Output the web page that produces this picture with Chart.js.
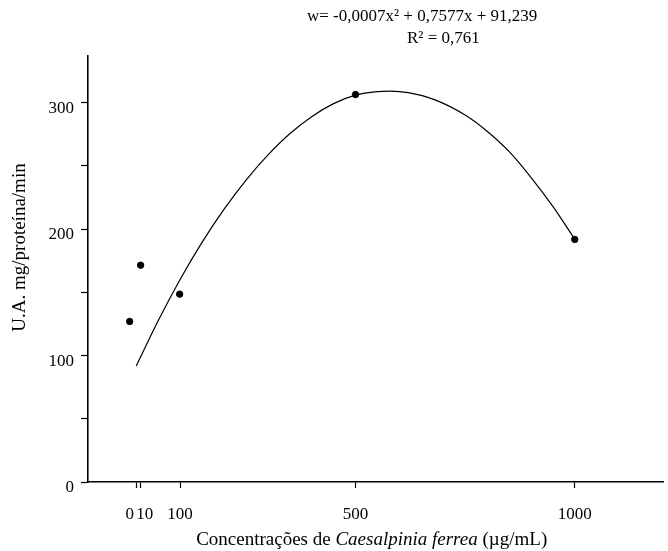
<!DOCTYPE html>
<html lang="pt">
<head>
    <meta charset="UTF-8">
    <title>Atividade x Concentração de Caesalpinia ferrea</title>
    <script src="https://cdn.jsdelivr.net/npm/chart.js"></script>
    <style>
        body { margin: 0; background: #fff; }
    </style>
</head>
<body>
    <canvas id="activityChart" width="668" height="551"></canvas>
    <script>
        // measured points
        const concX = [-15, 10, 99, 500, 1000];
        const activityY = [127, 171.5, 148.6, 306.5, 191.9];

        // fitted curve
        const curveX = [0, 50, 100, 150, 200, 250, 300, 350, 400, 450, 500, 550, 580, 620, 680, 750, 800, 850, 900, 950, 1000];
        const curveY = [91.7, 127.5, 160.2, 189.6, 215.7, 238.7, 258.6, 275.5, 289, 299.3, 306, 308.8, 309.2, 308, 302.5, 290.3, 277.5, 261.5, 241, 218, 192];

        // axis ticks
        const xTickValues = [0, 10, 100, 500, 1000];
        const xTickLabels = ['0\u00a0\u00a0\u00a0', '\u00a0\u00a010', '100', '500', '1000'];
        const yTickValues = [0, 50, 100, 150, 200, 250, 300];
        const yTickLabels = ['0', '', '100', '', '200', '', '300'];

        const equationLines = ['w= -0,0007x\u00b2 + 0,7577x + 91,239', 'R\u00b2 = 0,761'];
        const yTitle = 'U.A. mg/proteína/min';
        const xTitleParts = [
            { text: 'Concentrações de ', italic: false },
            { text: 'Caesalpinia ferrea', italic: true },
            { text: ' (\u00b5g/mL)', italic: false }
        ];

        const serif = '"Liberation Serif", "Times New Roman", serif';
        Chart.defaults.font.family = serif;
        Chart.defaults.color = '#000';

        // draws the equation and the axis titles (x title has an italic part)
        const textPlugin = {
            id: 'textPlugin',
            afterDraw(chart) {
                const ctx = chart.ctx;
                ctx.save();
                ctx.fillStyle = '#000';
                ctx.textBaseline = 'alphabetic';

                ctx.font = '17px ' + serif;
                ctx.textAlign = 'left';
                ctx.fillText(equationLines[0], 307, 21);
                ctx.fillText(equationLines[1], 407, 43);

                // x title
                let total = 0;
                xTitleParts.forEach(p => {
                    ctx.font = (p.italic ? 'italic ' : '') + '19px ' + serif;
                    p.w = ctx.measureText(p.text).width;
                    total += p.w;
                });
                let x = 371.7 - total / 2;
                xTitleParts.forEach(p => {
                    ctx.font = (p.italic ? 'italic ' : '') + '19px ' + serif;
                    ctx.fillText(p.text, x, 545);
                    x += p.w;
                });

                // y title
                ctx.font = '19px ' + serif;
                ctx.translate(25, 247.5);
                ctx.rotate(-Math.PI / 2);
                ctx.textAlign = 'center';
                ctx.fillText(yTitle, 0, 0);
                ctx.restore();
            }
        };

        const ctx = document.getElementById('activityChart').getContext('2d');
        new Chart(ctx, {
            type: 'scatter',
            data: {
                datasets: [
                    {
                        label: 'ajuste',
                        type: 'line',
                        data: curveX.map((x, i) => ({ x: x, y: curveY[i] })),
                        borderColor: '#000',
                        borderWidth: 1.2,
                        pointRadius: 0,
                        cubicInterpolationMode: 'monotone',
                        fill: false
                    },
                    {
                        label: 'dados',
                        data: concX.map((x, i) => ({ x: x, y: activityY[i] })),
                        backgroundColor: '#000',
                        borderColor: '#000',
                        pointRadius: 3.2,
                        pointHoverRadius: 3.2
                    }
                ]
            },
            options: {
                responsive: false,
                animation: false,
                layout: { padding: { top: 56, right: 0, left: 0, bottom: 0 } },
                plugins: {
                    legend: { display: false },
                    tooltip: { enabled: false }
                },
                scales: {
                    x: {
                        type: 'linear',
                        min: -110,
                        max: 1203,
                        afterFit: s => { s.height = 69; },
                        afterBuildTicks: s => { s.ticks = xTickValues.map(v => ({ value: v })); },
                        ticks: {
                            autoSkip: false,
                            maxRotation: 0,
                            padding: 16.5,
                            font: { size: 17 },
                            callback: (v, i) => xTickLabels[i]
                        },
                        grid: {
                            drawOnChartArea: false,
                            tickLength: 6,
                            tickColor: '#000',
                            tickWidth: 1.2
                        },
                        border: { display: true, color: '#000', width: 1.6 }
                    },
                    y: {
                        type: 'linear',
                        min: 0,
                        max: 337,
                        afterFit: s => { s.width = 88; },
                        afterBuildTicks: s => { s.ticks = yTickValues.map(v => ({ value: v })); },
                        ticks: {
                            autoSkip: false,
                            padding: 7,
                            labelOffset: 5.5,
                            font: { size: 17 },
                            callback: (v, i) => yTickLabels[i]
                        },
                        grid: {
                            drawOnChartArea: false,
                            tickLength: 7,
                            tickColor: '#000',
                            tickWidth: 1.2
                        },
                        border: { display: true, color: '#000', width: 1.6 }
                    }
                }
            },
            plugins: [textPlugin]
        });
    </script>
</body>
</html>
